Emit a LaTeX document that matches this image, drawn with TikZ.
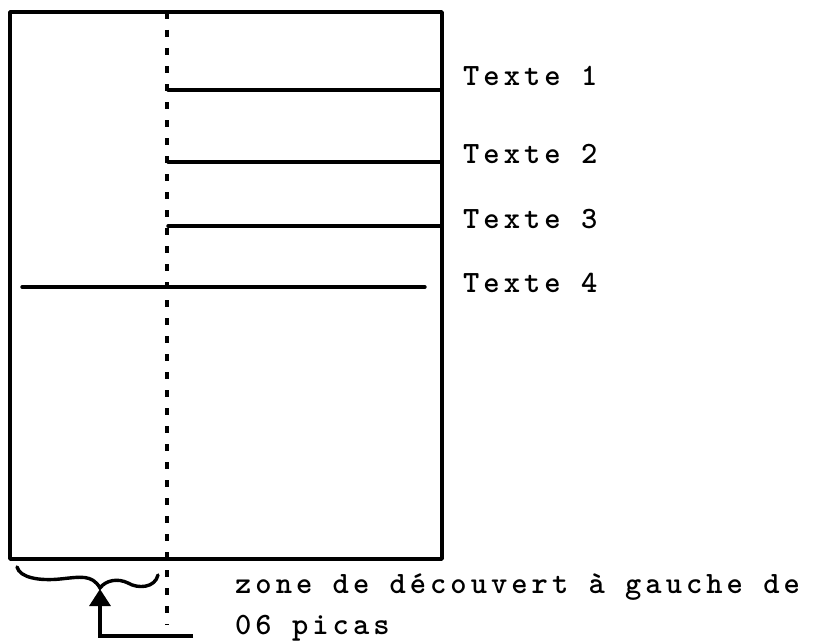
\documentclass[tikz,border=0pt]{standalone}
\usepackage{fontspec}
\usetikzlibrary{arrows.meta}
\newfontfamily\typewriter{lmmonolt10-bold.otf}[LetterSpace=13]
\begin{document}
\begin{tikzpicture}[x=1pt,y=-1pt,
  rule/.style={line width=3.4pt,line cap=round,line join=round},
  guide/.style={line width=3.4pt,dash pattern=on 7pt off 11pt},
  typed/.style={anchor=base west,inner sep=0pt,
    font=\fontsize{31}{35}\typewriter}]
\useasboundingbox (0,0) rectangle (813,642);

% page frame
\coordinate (tl) at (10,12);
\coordinate (br) at (442,559);
\draw[rule] (tl) rectangle (br);

% left margin guide (6 picas)
\coordinate (gtop) at (167,12);
\coordinate (gbot) at (167,625);
\draw[guide] (gtop) -- (gbot);

% text lines
\coordinate (l1a) at (168,90);  \coordinate (l1b) at (442,90);
\coordinate (l2a) at (168,162); \coordinate (l2b) at (442,162);
\coordinate (l3a) at (168,226); \coordinate (l3b) at (442,226);
\coordinate (l4a) at (22,287);  \coordinate (l4b) at (425,287);
\draw[rule] (l1a) -- (l1b);
\draw[rule] (l2a) -- (l2b);
\draw[rule] (l3a) -- (l3b);
\draw[rule] (l4a) -- (l4b);

\node[typed] (t1) at (463,85)  {Texte 1};
\node[typed] (t2) at (463,163) {Texte 2};
\node[typed] (t3) at (463,228) {Texte 3};
\node[typed] (t4) at (463,292) {Texte 4};

% brace under the margin zone
\draw[line width=3.4pt,line cap=round]
  (17,567) .. controls (20,578) and (40,581) .. (60,579)
  .. controls (80,577) and (92,574) .. (100,588)
  .. controls (106,580) and (118,578) .. (128,583)
  .. controls (138,589) and (155,588) .. (158,575);

% pointer to the brace
\coordinate (tip) at (100,589);
\coordinate (elbow) at (100,636);
\coordinate (tail) at (193,636);
\draw[line width=3.2pt,-{Triangle[length=17pt,width=21pt]}] (tail) -- (elbow) -- (tip);

\node[typed] (z1) at (235,593) {zone de découvert à gauche de};
\node[typed] (z2) at (235,634) {06 picas};
\end{tikzpicture}
\end{document}
